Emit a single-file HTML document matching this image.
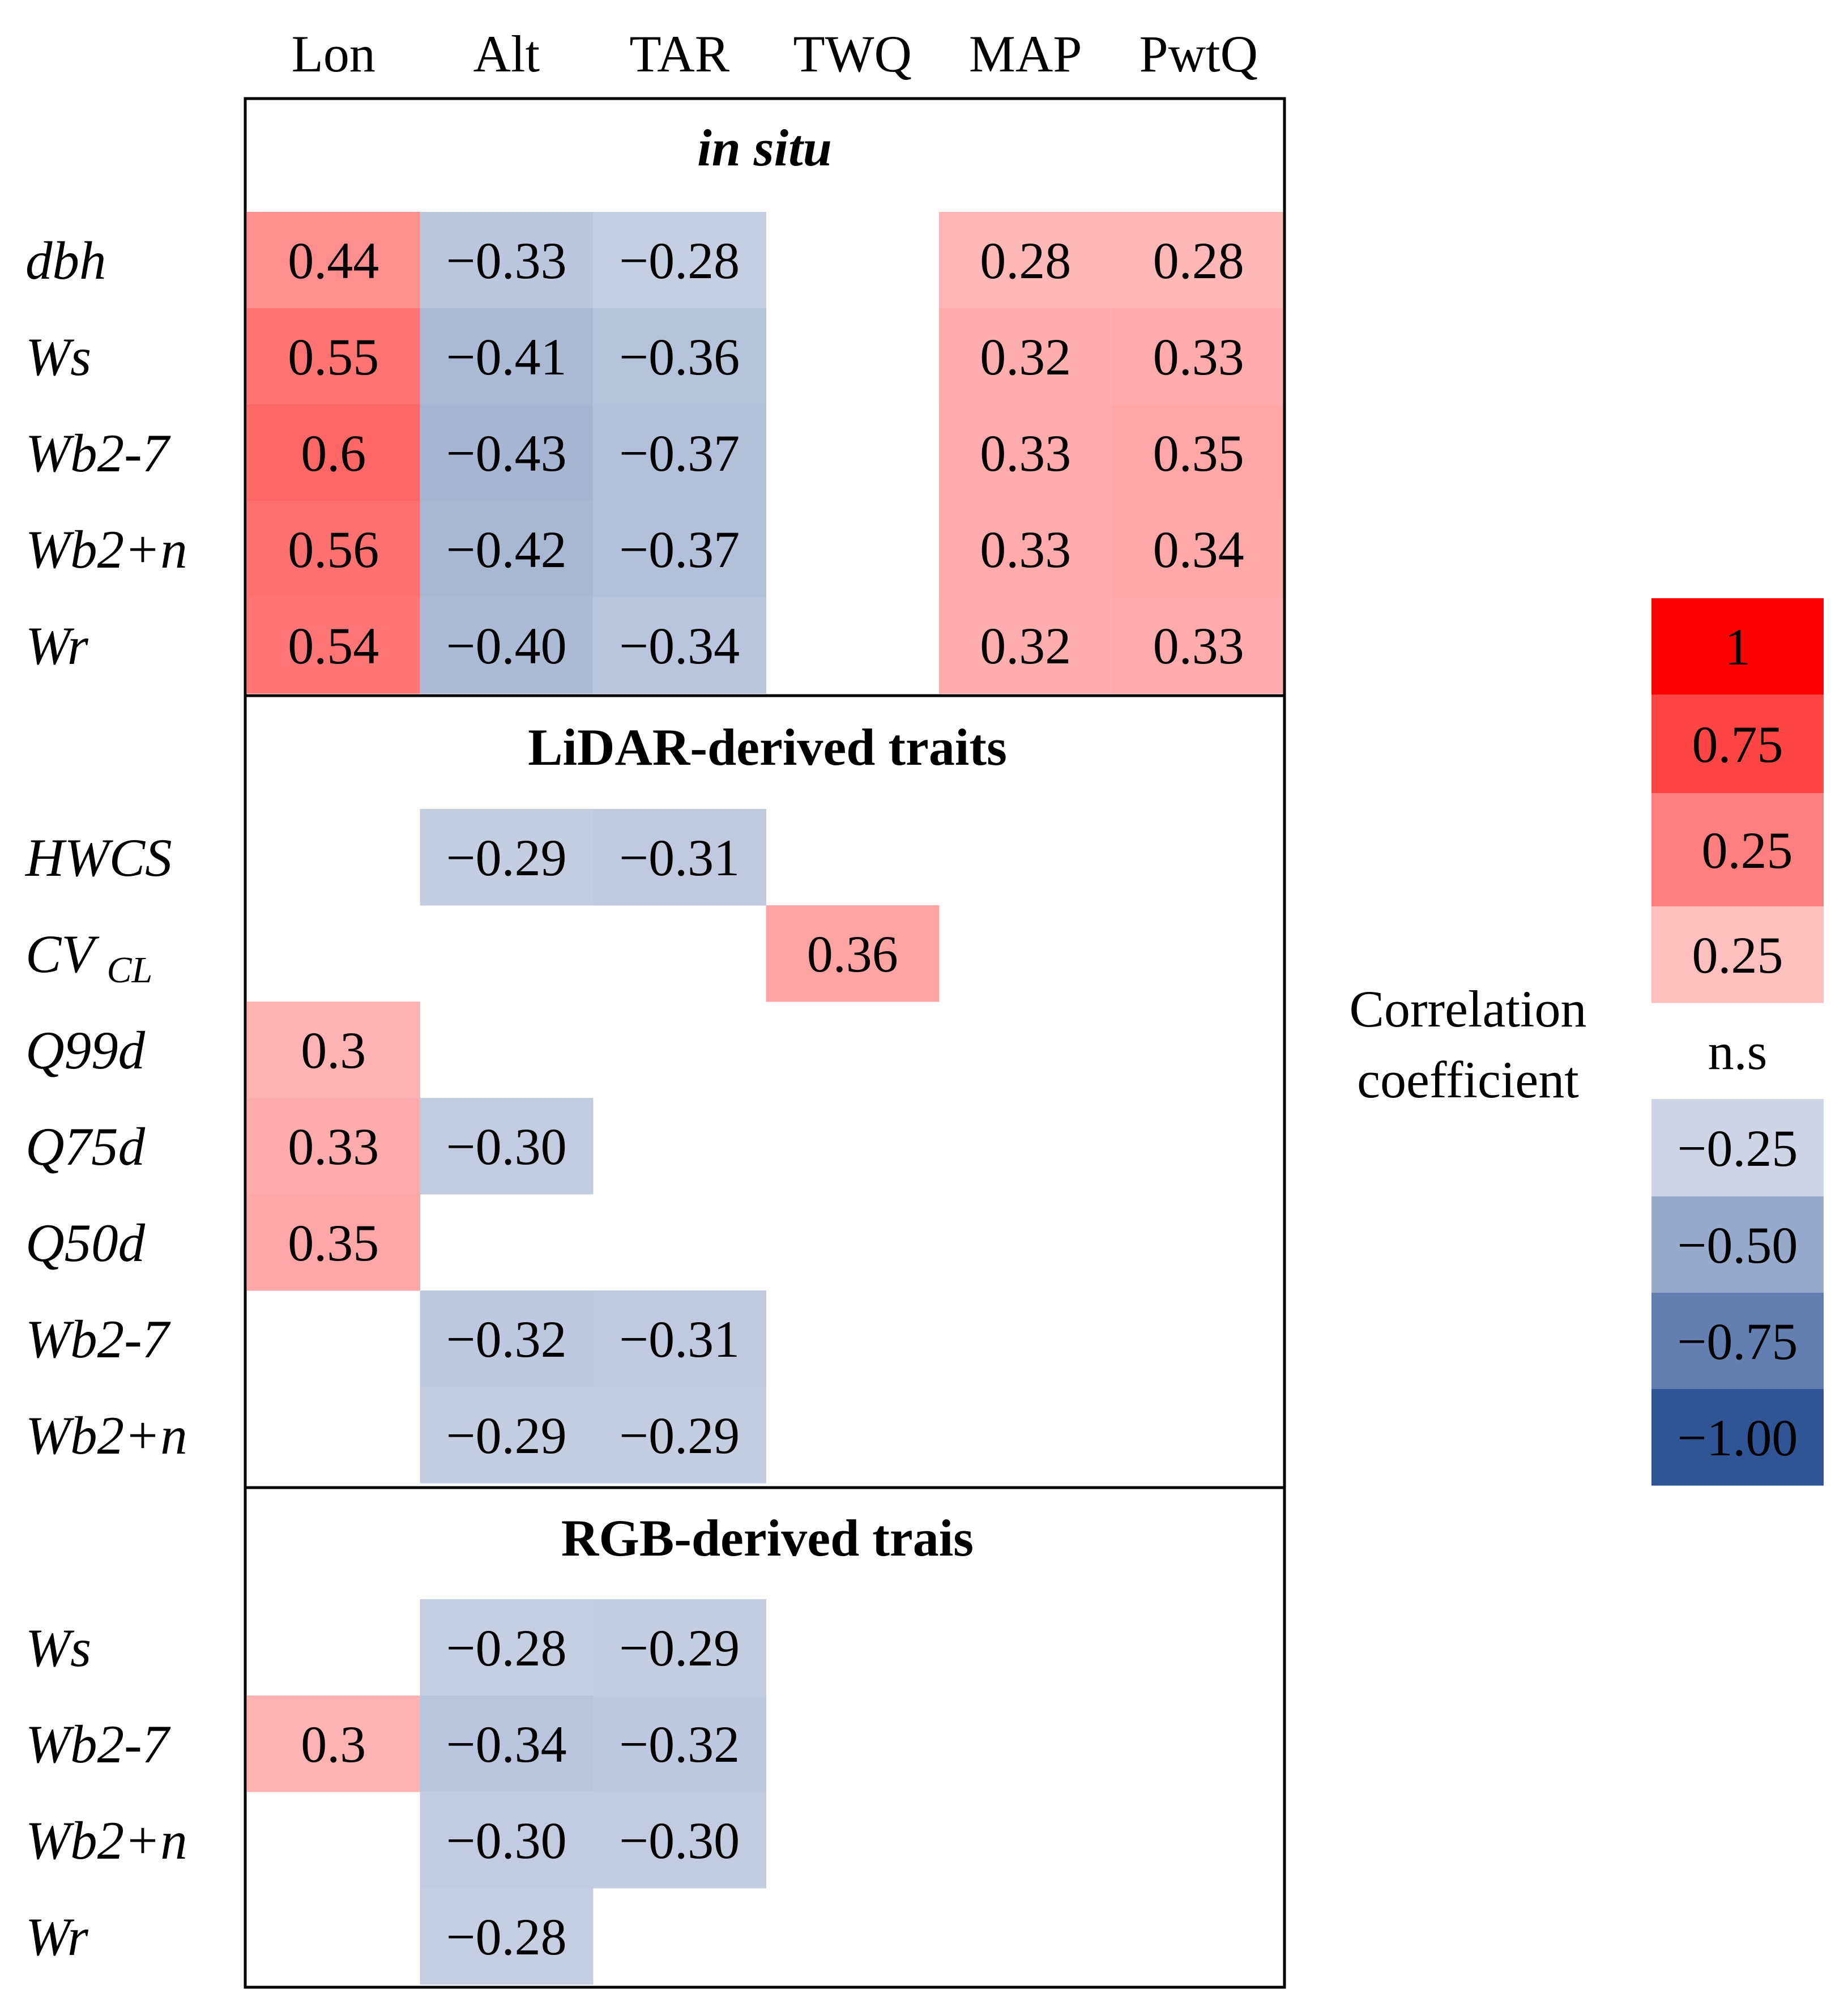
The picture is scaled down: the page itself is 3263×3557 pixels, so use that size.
<!DOCTYPE html>
<html><head><meta charset="utf-8"><style>
html,body{margin:0;padding:0;background:#fff}
svg text{font-family:"Liberation Serif",serif;}
</style></head><body>
<svg id="chart" width="3263" height="3552" viewBox="0 0 3263 3552" xmlns="http://www.w3.org/2000/svg">
<g id="cells"></g>
<rect x="433" y="174" width="1835" height="3334" fill="none" stroke="#000" stroke-width="5"/>
<line x1="433" y1="1228" x2="2268" y2="1228" stroke="#000" stroke-width="5"/>
<line x1="433" y1="2626" x2="2268" y2="2626" stroke="#000" stroke-width="5"/>
<text x="1350" y="292" font-size="92" font-weight="bold" font-style="italic" text-anchor="middle">in situ</text>
<text x="1355" y="1350" font-size="92" font-weight="bold" text-anchor="middle">LiDAR-derived traits</text>
<text x="1355" y="2746" font-size="92" font-weight="bold" text-anchor="middle">RGB-derived trais</text>
<g id="legend"></g>
<text x="2592" y="1812" font-size="92" text-anchor="middle">Correlation</text>
<text x="2592" y="1937" font-size="92" text-anchor="middle">coefficient</text>
</svg>
<script>
const columns = ["Lon","Alt","TAR","TWQ","MAP","PwtQ"];
const rowLabels = ["dbh","Ws","Wb2-7","Wb2+n","Wr","HWCS","CV_CL","Q99d","Q75d","Q50d","Wb2-7","Wb2+n","Ws","Wb2-7","Wb2+n","Wr"];
const N = null;
const values = [
 [0.44,-0.33,-0.28,N,0.28,0.28],
 [0.55,-0.41,-0.36,N,0.32,0.33],
 [0.6,-0.43,-0.37,N,0.33,0.35],
 [0.56,-0.42,-0.37,N,0.33,0.34],
 [0.54,-0.40,-0.34,N,0.32,0.33],
 [N,-0.29,-0.31,N,N,N],
 [N,N,N,0.36,N,N],
 [0.3,N,N,N,N,N],
 [0.33,-0.30,N,N,N,N],
 [0.35,N,N,N,N,N],
 [N,-0.32,-0.31,N,N,N],
 [N,-0.29,-0.29,N,N,N],
 [N,-0.28,-0.29,N,N,N],
 [0.3,-0.34,-0.32,N,N,N],
 [N,-0.30,-0.30,N,N,N],
 [N,-0.28,N,N,N,N]
];
const valueLabels = [
 ["0.44","\u22120.33","\u22120.28","","0.28","0.28"],
 ["0.55","\u22120.41","\u22120.36","","0.32","0.33"],
 ["0.6","\u22120.43","\u22120.37","","0.33","0.35"],
 ["0.56","\u22120.42","\u22120.37","","0.33","0.34"],
 ["0.54","\u22120.40","\u22120.34","","0.32","0.33"],
 ["","\u22120.29","\u22120.31","","",""],
 ["","","","0.36","",""],
 ["0.3","","","","",""],
 ["0.33","\u22120.30","","","",""],
 ["0.35","","","","",""],
 ["","\u22120.32","\u22120.31","","",""],
 ["","\u22120.29","\u22120.29","","",""],
 ["","\u22120.28","\u22120.29","","",""],
 ["0.3","\u22120.34","\u22120.32","","",""],
 ["","\u22120.30","\u22120.30","","",""],
 ["","\u22120.28","","","",""]
];
const legendLabels = ["1","0.75","0.25","0.25","n.s","\u22120.25","\u22120.50","\u22120.75","\u22121.00"];
const legendColors = ["#ff0000","#ff4444","#ff7f7f","#ffbfbf","#ffffff","#cdd5e6","#97aacc","#637fb1","#2f5597"];

const NS="http://www.w3.org/2000/svg";
const X0=436, CW=305.5, RH=170;
const rowTops=[374,544,714,884,1054, 1428,1598,1768,1938,2108,2278,2448, 2823,2993,3163,3333];
function xAt(c){return X0+c*CW;}
function yAt(r){return rowTops[r];}
function color(v){
  const t=Math.min(1,Math.abs(v));
  if(v>0){const g=Math.round(255-255*t);return `rgb(255,${g},${g})`;}
  return `rgb(${Math.round(255-208*t)},${Math.round(255-170*t)},${Math.round(255-104*t)})`;
}
const svg=document.getElementById('chart');
const cells=document.getElementById('cells');
columns.forEach((c,i)=>{
  const t=document.createElementNS(NS,'text');
  
  
  t.setAttribute('x',xAt(i)+CW/2);t.setAttribute('y',126);
  t.setAttribute('font-size','92');t.setAttribute('text-anchor','middle');
  t.textContent=c;svg.appendChild(t);
});
rowLabels.forEach((lab,r)=>{
  const t=document.createElementNS(NS,'text');
  
  
  t.setAttribute('x',45);t.setAttribute('y',yAt(r)+RH/2+33);
  t.setAttribute('font-size','95');t.setAttribute('font-style','italic');
  if(lab==="CV_CL"){
    t.textContent="CV ";
    const s=document.createElementNS(NS,'tspan');
    s.setAttribute('font-size','66');s.setAttribute('dy','18');s.textContent="CL";
    t.appendChild(s);
  } else t.textContent=lab;
  svg.appendChild(t);
  values[r].forEach((v,c)=>{
    if(v===null)return;
    const rc=document.createElementNS(NS,'rect');
    
    
    rc.setAttribute('x',xAt(c));rc.setAttribute('y',yAt(r));
    rc.setAttribute('width',CW+0.5);rc.setAttribute('height',RH+0.5);
    rc.setAttribute('fill',color(v));cells.appendChild(rc);
    const tx=document.createElementNS(NS,'text');
    
    
    tx.setAttribute('x',xAt(c)+CW/2);tx.setAttribute('y',yAt(r)+RH/2+32);
    tx.setAttribute('font-size','92');tx.setAttribute('text-anchor','middle');
    tx.textContent=valueLabels[r][c];cells.appendChild(tx);
  });
});
const legTops=[1056,1226,1400,1600,1770,1940,2112,2282,2452];
const leg=document.getElementById('legend');
legendLabels.forEach((lab,i)=>{
  const h=(i<8?legTops[i+1]:2622)-legTops[i];
  if(lab!=="n.s"){
    const rc=document.createElementNS(NS,'rect');
    
    
    rc.setAttribute('x',2916);rc.setAttribute('y',legTops[i]);
    rc.setAttribute('width',304);rc.setAttribute('height',h+0.5);
    rc.setAttribute('fill',legendColors[i]);leg.appendChild(rc);
  }
  const tx=document.createElementNS(NS,'text');
  
  
  tx.setAttribute('x',i===2?3085:3068);tx.setAttribute('y',legTops[i]+h/2+32);
  tx.setAttribute('font-size','92');tx.setAttribute('text-anchor','middle');
  tx.textContent=lab;leg.appendChild(tx);
});
</script>
</body></html>
